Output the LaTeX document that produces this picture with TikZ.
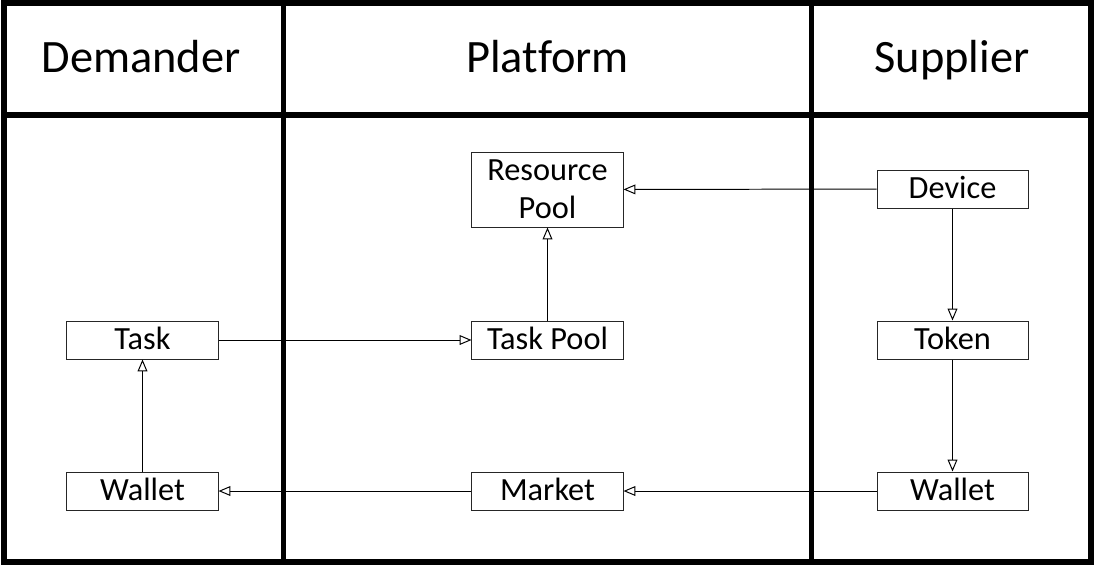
\documentclass[tikz,border=0pt]{standalone}
\usepackage{fontspec}
\setmainfont[Ligatures=CommonOff]{Carlito}
\usetikzlibrary{arrows.meta}
\tikzset{
  lane/.style={line width=3.6pt},
  head/.style={anchor=base, font=\fontsize{33}{36}\selectfont},
  item/.style={draw=black!85, line width=0.7pt, minimum width=3.775cm,
    minimum height=0.95cm, inner sep=0pt, align=center,
    text height=15pt, text depth=2pt,
    font=\fontsize{23}{27}\selectfont},
  flow/.style={line width=0.7pt, -{Triangle[open, length=8.5pt, width=7pt]}}
}
\begin{document}
\begin{tikzpicture}[x=0.025cm, y=-0.025cm]
      \useasboundingbox (0,0) rectangle (1096,567);
      \draw[lane] (4,3) rectangle (1091,562);
      \draw[lane] (4,115) -- (1091,115);
      \draw[lane] (283.5,3) -- (283.5,562);
      \draw[lane] (811.5,3) -- (811.5,562);
      \draw
        (141,72) node[head] (dem){Demander}
        (547.5,72) node[head] (plat){Platform}
        (952,72) node[head] (sup){Supplier};
      \draw
        (547.5,189.5) node[item, minimum height=1.875cm, text height=, text depth=] (respool){Resource\\Pool}
        (547.5,340) node[item] (taskpool){Task Pool}
        (547.5,491) node[item] (market){Market}
        (142.5,340) node[item] (task){Task}
        (142.5,491) node[item] (dwallet){Wallet}
        (952.5,189) node[item] (device){Device}
        (952.5,340) node[item] (token){Token}
        (952.5,491) node[item] (swallet){Wallet};
      \begin{scope}[flow]
        \draw (device) to (respool);
        \draw (taskpool) to (respool);
        \draw (task) to (taskpool);
        \draw (dwallet) to (task);
        \draw (device) to (token);
        \draw (token) to (swallet);
        \draw (swallet) to (market);
        \draw (market) to (dwallet);
      \end{scope}
    \end{tikzpicture}
\end{document}
